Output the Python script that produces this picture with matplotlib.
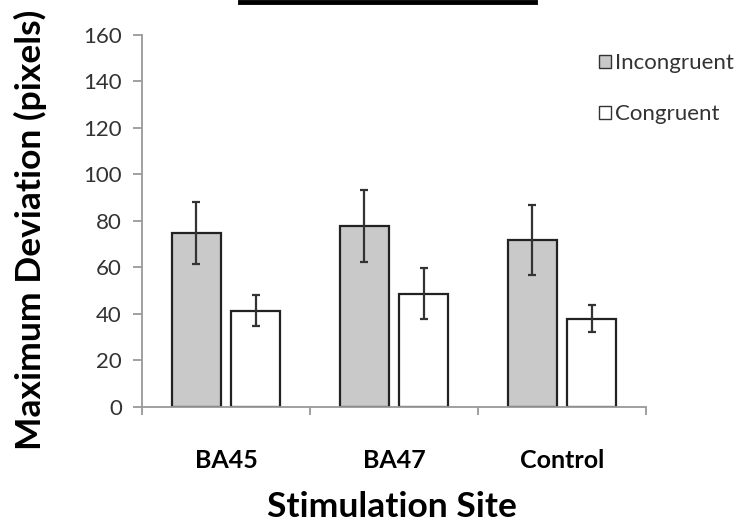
import numpy as np
import matplotlib
matplotlib.use('Agg')
from matplotlib import pyplot as plt
from matplotlib.patches import Patch
from matplotlib.lines import Line2D

# data
sites = ['BA45', 'BA47', 'Control']
incongruent = [74.8, 78.0, 71.8]
incongruent_err = [13.5, 15.5, 15.0]
congruent = [41.5, 48.8, 38.0]
congruent_err = [6.5, 11.0, 5.8]
yticks = [0, 20, 40, 60, 80, 100, 120, 140, 160]

plt.rcParams['font.family'] = ['Lato', 'DejaVu Sans']

fig = plt.figure(figsize=(7.56, 5.23), dpi=100)
ax = fig.add_axes([0.1878, 0.2218, 0.6667, 0.7113])

x = np.arange(len(sites))
w = 0.29
off = 0.177
edge = '#222222'

ax.bar(x - off, incongruent, w, color='#c9c9c9', edgecolor=edge, linewidth=1.6, zorder=2)
ax.bar(x + off, congruent, w, color='white', edgecolor=edge, linewidth=1.6, zorder=2)
ax.errorbar(x - off, incongruent, yerr=incongruent_err, fmt='none', ecolor='#333333',
            elinewidth=1.6, capsize=3, capthick=1.6, zorder=3)
ax.errorbar(x + off, congruent, yerr=congruent_err, fmt='none', ecolor='#333333',
            elinewidth=1.6, capsize=3, capthick=1.6, zorder=3)

ax.set_xlim(-0.5, 2.5)
ax.set_ylim(0, 160)
ax.set_yticks(yticks)

for s in ['top', 'right']:
    ax.spines[s].set_visible(False)
for s in ['left', 'bottom']:
    ax.spines[s].set_color('#999999')
    ax.spines[s].set_linewidth(1.3)

ax.tick_params(axis='y', direction='out', length=6.5, width=1.3, color='#999999',
               labelsize=16, labelcolor='#333333', pad=8)
ax.set_xticks(x)
ax.set_xticklabels(sites, fontsize=18, fontweight='bold')
ax.set_xticks([-0.5, 0.5, 1.5, 2.5], minor=True)
ax.tick_params(axis='x', which='major', length=0, pad=30)
ax.tick_params(axis='x', which='minor', direction='out', length=6, width=1.3, color='#999999')

fig.text(0.04, 0.56, 'Maximum Deviation (pixels)', rotation=90, ha='center', va='center',
         fontsize=25.5, fontweight='bold')
fig.text(0.519, 0.0115, 'Stimulation Site', ha='center', va='baseline',
         fontsize=25.5, fontweight='bold')

handles = [Patch(facecolor='#c9c9c9', edgecolor='#333333', linewidth=1),
           Patch(facecolor='white', edgecolor='#333333', linewidth=1)]
leg = ax.legend(handles, ['Incongruent', 'Congruent'], loc='upper left',
                bbox_to_anchor=(0.89, 0.975), frameon=False, fontsize=16,
                handlelength=0.5, handleheight=0.5, handletextpad=0.2,
                labelspacing=1.4, borderaxespad=0)
for t in leg.get_texts():
    t.set_color('#333333')

# black bar cut off at the top edge
fig.add_artist(Line2D([0.317, 0.708], [0.996, 0.996], color='black', linewidth=3.5))

fig.savefig('out.png', dpi=100)
